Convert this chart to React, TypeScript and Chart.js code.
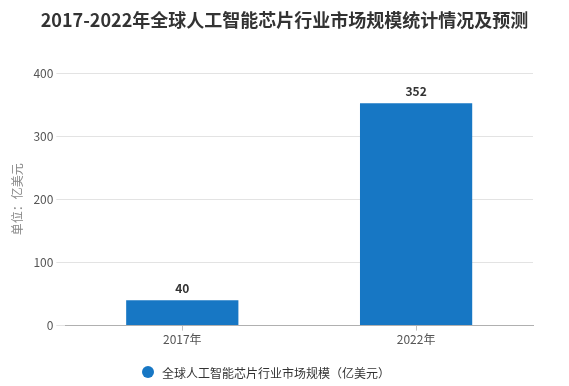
import React, { useEffect, useRef } from "react";
import { Chart, registerables } from "chart.js";

Chart.register(...registerables);

const categories = ["2017年", "2022年"];
const marketSize = [40, 352];
const seriesName = "全球人工智能芯片行业市场规模（亿美元）";
const titleText = "2017-2022年全球人工智能芯片行业市场规模统计情况及预测";
const yAxisTitle = "单位：亿美元";

const FONT = "'Noto Sans CJK SC', 'Noto Sans', sans-serif";
const BAR_COLOR = "#1777c4";

const valueLabels = {
  id: "valueLabels",
  afterDatasetsDraw(chart: any) {
    const ctx = chart.ctx;
    ctx.save();
    ctx.font = `bold 12px ${FONT}`;
    ctx.fillStyle = "#333333";
    ctx.textAlign = "center";
    ctx.textBaseline = "bottom";
    chart.data.datasets.forEach((ds: any, i: number) => {
      const meta = chart.getDatasetMeta(i);
      meta.data.forEach((el: any, j: number) => {
        ctx.fillText(String(ds.data[j]), el.x, el.y - 6);
      });
    });
    ctx.restore();
  },
};

const titleAndLegend = {
  id: "titleAndLegend",
  afterDraw(chart: any) {
    const ctx = chart.ctx;
    const ds = chart.data.datasets[0];
    ctx.save();
    // title centred on the whole canvas
    ctx.font = `bold 18px ${FONT}`;
    ctx.fillStyle = "#333333";
    ctx.textAlign = "center";
    ctx.textBaseline = "middle";
    ctx.fillText(titleText, chart.width / 2, 20);
    // legend
    const cy = chart.height - 14;
    const cx = 148;
    ctx.fillStyle = ds.backgroundColor;
    ctx.beginPath();
    ctx.arc(cx, cy, 6, 0, Math.PI * 2);
    ctx.fill();
    ctx.font = `12px ${FONT}`;
    ctx.fillStyle = "#333333";
    ctx.textAlign = "left";
    ctx.fillText(ds.label, cx + 14, cy + 1);
    ctx.restore();
  },
};

export default function App() {
  const ref = useRef<HTMLCanvasElement>(null);
  useEffect(() => {
    document.body.style.margin = "0";
    const chart = new Chart(ref.current!, {
      type: "bar",
      data: {
        labels: categories,
        datasets: [
          {
            label: seriesName,
            data: marketSize,
            backgroundColor: BAR_COLOR,
            barPercentage: 0.48,
            categoryPercentage: 1,
          },
        ],
      },
      options: {
        animation: false,
        responsive: false,
        maintainAspectRatio: false,
        layout: { padding: { left: 10, right: 36, top: 73, bottom: 37 } },
        plugins: {
          title: { display: false },
          legend: { display: false },
          tooltip: { enabled: false },
        },
        scales: {
          x: {
            grid: {
              offset: false,
              drawOnChartArea: false,
              drawTicks: true,
              tickLength: 5,
              color: "#bfbfbf",
            },
            border: { color: "#b0b0b0" },
            ticks: { color: "#555555", font: { family: FONT, size: 12 }, padding: 2 },
          },
          y: {
            min: 0,
            max: 400,
            ticks: { stepSize: 100, color: "#555555", font: { family: FONT, size: 12 }, padding: 3 },
            grid: { color: "#e3e3e3", tickLength: 9 },
            border: { display: false },
            title: {
              display: true,
              text: yAxisTitle,
              color: "#888888",
              font: { family: FONT, size: 12 },
              padding: { top: 0, bottom: 6 },
            },
          },
        },
      },
      plugins: [valueLabels, titleAndLegend],
    });
    return () => chart.destroy();
  }, []);
  return (
    <div style={{ width: 569, height: 386 }}>
      <canvas ref={ref} width={569} height={386} />
    </div>
  );
}
